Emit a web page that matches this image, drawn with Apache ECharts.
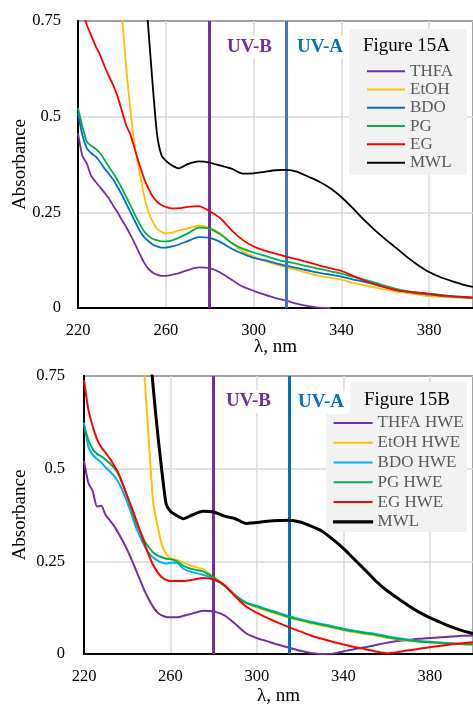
<!DOCTYPE html>
<html>
<head>
<meta charset="utf-8">
<script src="https://cdn.jsdelivr.net/npm/echarts@6/dist/echarts.min.js"></script>
<style>
  html, body { margin: 0; padding: 0; background: #fff; }
  #main { width: 473px; height: 707px; }
</style>
</head>
<body>
<div id="main"></div>
<script>
// wavelengths (nm) shared by both panels
var wl = [220, 222, 224, 226, 228, 230, 232, 234, 236, 238, 240, 242, 244, 246, 248, 250, 252, 254, 256, 258,
          260, 263, 266, 270, 275, 280, 285, 290, 295, 300, 305, 310, 315, 320, 325, 330, 335, 340, 345, 350,
          355, 360, 365, 370, 375, 380, 385, 390, 395, 400];

var xTicks = [220, 260, 300, 340, 380];
var yTicks = [0, 0.25, 0.5, 0.75];
var uvBands = [280, 315];

// Figure 15A
var thfaA = [0.456, 0.398, 0.378, 0.345, 0.330, 0.316, 0.302, 0.287, 0.268, 0.250, 0.230, 0.211, 0.190, 0.167, 0.143, 0.120, 0.103, 0.093, 0.087, 0.084,
             0.084, 0.087, 0.091, 0.099, 0.106, 0.104, 0.092, 0.074, 0.056, 0.045, 0.035, 0.026, 0.019, 0.011, 0.005, 0.001, 0.000, null, null, null,
             null, null, null, null, null, null, null, null, null, null];
var etohA = [null, null, null, null, null, null, null, null, null, 0.90, 0.765, 0.626, 0.51, 0.418, 0.356, 0.297, 0.252, 0.226, 0.207, 0.199,
             0.195, 0.197, 0.203, 0.208, 0.215, 0.210, 0.194, 0.170, 0.148, 0.135, 0.123, 0.114, 0.106, 0.099, 0.091, 0.084, 0.079, 0.074, 0.066, 0.060,
             0.054, 0.048, 0.043, 0.039, 0.035, 0.031, 0.029, 0.028, 0.027, 0.026];
var bdoA = [0.509, 0.452, 0.418, 0.405, 0.396, 0.382, 0.365, 0.351, 0.336, 0.317, 0.296, 0.273, 0.249, 0.226, 0.203, 0.186, 0.175, 0.166, 0.161, 0.158,
            0.158, 0.161, 0.166, 0.175, 0.185, 0.183, 0.172, 0.155, 0.142, 0.131, 0.125, 0.117, 0.110, 0.104, 0.098, 0.092, 0.087, 0.082, 0.075, 0.069,
            0.062, 0.054, 0.047, 0.042, 0.038, 0.035, 0.032, 0.030, 0.028, 0.027];
var pgA = [0.522, 0.474, 0.435, 0.424, 0.416, 0.405, 0.388, 0.370, 0.353, 0.334, 0.313, 0.290, 0.267, 0.243, 0.221, 0.201, 0.189, 0.181, 0.177, 0.174,
           0.174, 0.177, 0.184, 0.195, 0.210, 0.207, 0.192, 0.170, 0.155, 0.145, 0.137, 0.128, 0.121, 0.115, 0.109, 0.102, 0.096, 0.090, 0.082, 0.075,
           0.067, 0.058, 0.050, 0.044, 0.040, 0.037, 0.034, 0.031, 0.029, 0.027];
var egA = [null, 0.78, 0.74, 0.712, 0.685, 0.662, 0.633, 0.607, 0.583, 0.553, 0.515, 0.477, 0.451, 0.413, 0.375, 0.340, 0.313, 0.292, 0.278, 0.269,
           0.264, 0.260, 0.261, 0.264, 0.266, 0.253, 0.234, 0.203, 0.178, 0.161, 0.150, 0.142, 0.134, 0.127, 0.119, 0.111, 0.104, 0.097, 0.085, 0.073,
           0.063, 0.054, 0.047, 0.043, 0.040, 0.037, 0.034, 0.031, 0.029, 0.027];
var mwlA = [null, null, null, null, null, null, null, null, null, null, null, null, null, null, null, 0.88, 0.735, 0.585, 0.455, 0.400,
            0.385, 0.372, 0.365, 0.376, 0.383, 0.380, 0.372, 0.364, 0.351, 0.352, 0.356, 0.360, 0.361, 0.356, 0.343, 0.330, 0.313, 0.290, 0.262, 0.232,
            0.205, 0.180, 0.157, 0.133, 0.112, 0.094, 0.081, 0.071, 0.062, 0.055];

// Figure 15B
var thfaB = [0.521, 0.462, 0.440, 0.398, 0.400, 0.375, 0.360, 0.345, 0.325, 0.304, 0.281, 0.255, 0.227, 0.199, 0.171, 0.147, 0.127, 0.112, 0.104, 0.100,
             0.099, 0.099, 0.103, 0.109, 0.117, 0.115, 0.104, 0.081, 0.056, 0.043, 0.034, 0.025, 0.017, 0.009, 0.003, 0.000, 0.001, 0.007, 0.013, 0.018,
             0.024, 0.030, 0.035, 0.038, 0.041, 0.043, 0.045, 0.047, 0.049, 0.050];
var etohB = [null, null, null, null, null, null, null, null, null, null, null, null, null, 0.93, 0.75, 0.575, 0.41, 0.347, 0.295, 0.270,
             0.259, 0.253, 0.246, 0.237, 0.229, 0.208, 0.185, 0.158, 0.137, 0.126, 0.116, 0.107, 0.098, 0.090, 0.083, 0.077, 0.071, 0.064, 0.059, 0.054,
             0.050, 0.044, 0.040, 0.036, 0.033, 0.031, 0.029, 0.027, 0.026, 0.025];
var bdoB = [0.624, 0.560, 0.538, 0.526, 0.517, 0.503, 0.492, 0.480, 0.463, 0.438, 0.409, 0.378, 0.342, 0.316, 0.291, 0.272, 0.260, 0.252, 0.247, 0.244,
            0.246, 0.246, 0.230, 0.221, 0.214, 0.203, 0.184, 0.159, 0.139, 0.130, 0.120, 0.111, 0.102, 0.094, 0.087, 0.081, 0.075, 0.068, 0.063, 0.058,
            0.054, 0.048, 0.043, 0.039, 0.035, 0.033, 0.031, 0.029, 0.027, 0.026];
var pgB = [0.615, 0.578, 0.553, 0.540, 0.533, 0.524, 0.514, 0.502, 0.484, 0.457, 0.425, 0.390, 0.355, 0.330, 0.305, 0.288, 0.274, 0.266, 0.261, 0.257,
           0.256, 0.250, 0.238, 0.229, 0.223, 0.206, 0.184, 0.158, 0.138, 0.128, 0.118, 0.109, 0.100, 0.092, 0.085, 0.079, 0.073, 0.066, 0.061, 0.056,
           0.052, 0.046, 0.041, 0.037, 0.034, 0.032, 0.030, 0.028, 0.027, 0.026];
var egB = [0.739, 0.660, 0.615, 0.580, 0.558, 0.543, 0.527, 0.508, 0.487, 0.457, 0.426, 0.396, 0.364, 0.331, 0.298, 0.267, 0.240, 0.221, 0.207, 0.200,
           0.197, 0.197, 0.197, 0.200, 0.205, 0.201, 0.186, 0.155, 0.128, 0.111, 0.097, 0.084, 0.072, 0.061, 0.050, 0.041, 0.033, 0.026, 0.019, 0.013,
           0.007, 0.002, 0.005, 0.010, 0.014, 0.018, 0.022, 0.026, 0.029, 0.032];
var mwlB = [null, null, null, null, null, null, null, null, null, null, null, null, null, null, null, 0.86, 0.72, 0.60, 0.495, 0.405,
            0.385, 0.373, 0.365, 0.375, 0.385, 0.383, 0.372, 0.365, 0.352, 0.355, 0.358, 0.360, 0.361, 0.356, 0.345, 0.332, 0.310, 0.285, 0.256, 0.227,
            0.197, 0.172, 0.151, 0.131, 0.113, 0.098, 0.085, 0.073, 0.063, 0.055];

var namesA = ['THFA', 'EtOH', 'BDO', 'PG', 'EG', 'MWL'];
var namesB = ['THFA HWE', 'EtOH HWE', 'BDO HWE', 'PG HWE', 'EG HWE', 'MWL'];
var colorsA = ['#7030A0', '#FFC000', '#0070C0', '#00B050', '#FF0000', '#000000'];
var colorsB = ['#7030A0', '#FFC000', '#00B0F0', '#00B050', '#FF0000', '#000000'];

var FONT = 'Liberation Serif';

function pairs(ys) {
    var out = [];
    for (var i = 0; i < wl.length; i++) {
        if (ys[i] != null) out.push([wl[i], ys[i]]);
    }
    return out;
}

function makeX(idx, gap) {
    return {
        type: 'value', gridIndex: idx, min: 220, max: 400, interval: 40,
        name: 'λ, nm', nameLocation: 'middle', nameGap: gap, nameMoveOverlap: false,
        nameTextStyle: { fontSize: 19, color: '#000', fontFamily: FONT },
        axisLine: { lineStyle: { color: '#000', width: 2 } },
        axisTick: { show: false },
        axisLabel: {
            fontSize: 16.5, color: '#000', margin: 14, fontFamily: FONT, showMaxLabel: false,
            formatter: function (v) { return xTicks.indexOf(v) >= 0 ? String(v) : ''; }
        },
        splitLine: { lineStyle: { color: '#D9D9D9', width: 1.5 } }
    };
}

function makeY(idx, gap, margin) {
    return {
        type: 'value', gridIndex: idx, min: 0, max: 0.75, interval: 0.25,
        name: 'Absorbance', nameLocation: 'middle', nameGap: gap, nameMoveOverlap: false,
        nameTextStyle: { fontSize: 19, color: '#000', fontFamily: FONT },
        axisLine: { lineStyle: { color: '#000', width: 2 } },
        axisTick: { show: false },
        axisLabel: {
            fontSize: 16.5, color: '#000', margin: margin, fontFamily: FONT,
            formatter: function (v) { return yTicks.indexOf(v) >= 0 ? String(v) : ''; }
        },
        splitLine: { lineStyle: { color: '#D9D9D9', width: 1.5 } }
    };
}

function makeSeries(idx, names, colors, sets, widths, uvColors) {
    var list = [];
    for (var i = 0; i < names.length; i++) {
        list.push({
            name: names[i], type: 'line', xAxisIndex: idx, yAxisIndex: idx,
            data: pairs(sets[i]), symbol: 'none', showSymbol: false,
            smooth: 0.2,
            color: colors[i],
            lineStyle: { color: colors[i], width: widths[i] },
            z: 2 + i
        });
    }
    // UV band boundaries
    list[list.length - 1].markLine = {
        silent: true, symbol: ['none', 'none'], label: { show: false },
        data: [
            { xAxis: uvBands[0], lineStyle: { color: uvColors[0], width: 3, type: 'solid' } },
            { xAxis: uvBands[1], lineStyle: { color: uvColors[1], width: 3, type: 'solid' } }
        ]
    };
    return list;
}

function uvText(txt, x, y, color) {
    return {
        type: 'text', left: x, top: y, z: 10,
        style: {
            text: txt, fill: color, font: 'bold 19px "Liberation Serif"',
            backgroundColor: '#fff', padding: [2, 3]
        }
    };
}

var chart = echarts.init(document.getElementById('main'));

var option = {
    animation: false,
    backgroundColor: '#fff',
    textStyle: { fontFamily: FONT },
    grid: [
        { left: 78, top: 21, width: 396, height: 287, show: true, borderColor: '#000', borderWidth: 2, backgroundColor: 'transparent' },
        { left: 84, top: 376, width: 390, height: 281, show: true, borderColor: '#000', borderWidth: 2, backgroundColor: 'transparent' }
    ],
    xAxis: [makeX(0, 30), makeX(1, 33)],
    yAxis: [makeY(0, 48, 17), makeY(1, 54, 19)],
    legend: [
        {
            data: namesA, orient: 'vertical', left: 367, top: 62, padding: 0, itemGap: 0,
            icon: 'rect', itemWidth: 38, itemHeight: 2, z: 6,
            textStyle: { fontSize: 17, color: '#595959', lineHeight: 18.3, fontFamily: FONT }
        },
        {
            data: namesB.slice(0, 5).concat([{ name: 'MWL', itemStyle: { borderColor: '#000', borderWidth: 1.2 } }]),
            orient: 'vertical', left: 333, top: 413, padding: 0, itemGap: 0,
            icon: 'rect', itemWidth: 39, itemHeight: 2, z: 6,
            textStyle: { fontSize: 17, color: '#595959', lineHeight: 19.8, fontFamily: FONT }
        }
    ],
    graphic: [
        { type: 'rect', shape: { x: 349, y: 29, width: 118, height: 146 }, style: { fill: '#F2F2F2' }, z: 3 },
        { type: 'text', left: 363, top: 37, z: 6, style: { text: 'Figure 15A', fill: '#000', font: '19px "Liberation Serif"' } },
        uvText('UV-B', 224, 36, '#7030A0'),
        uvText('UV-A', 294, 36, '#0070C0'),
        { type: 'rect', shape: { x: 350, y: 382, width: 117, height: 33 }, style: { fill: '#F2F2F2' }, z: 3 },
        { type: 'rect', shape: { x: 326, y: 413, width: 141, height: 119 }, style: { fill: '#F2F2F2' }, z: 3 },
        { type: 'text', left: 364, top: 391, z: 6, style: { text: 'Figure 15B', fill: '#000', font: '19px "Liberation Serif"' } },
        uvText('UV-B', 223, 390, '#7030A0'),
        uvText('UV-A', 295, 391, '#0070C0')
    ],
    series: makeSeries(0, namesA, colorsA, [thfaA, etohA, bdoA, pgA, egA, mwlA], [1.8, 1.8, 1.8, 1.8, 1.8, 1.8], ['#7030A0', '#4472C4'])
        .concat(makeSeries(1, namesB, colorsB, [thfaB, etohB, bdoB, pgB, egB, mwlB], [2, 2, 2, 2, 2, 3], ['#7030A0', '#0070C0']))
};

chart.setOption(option);
</script>
</body>
</html>
